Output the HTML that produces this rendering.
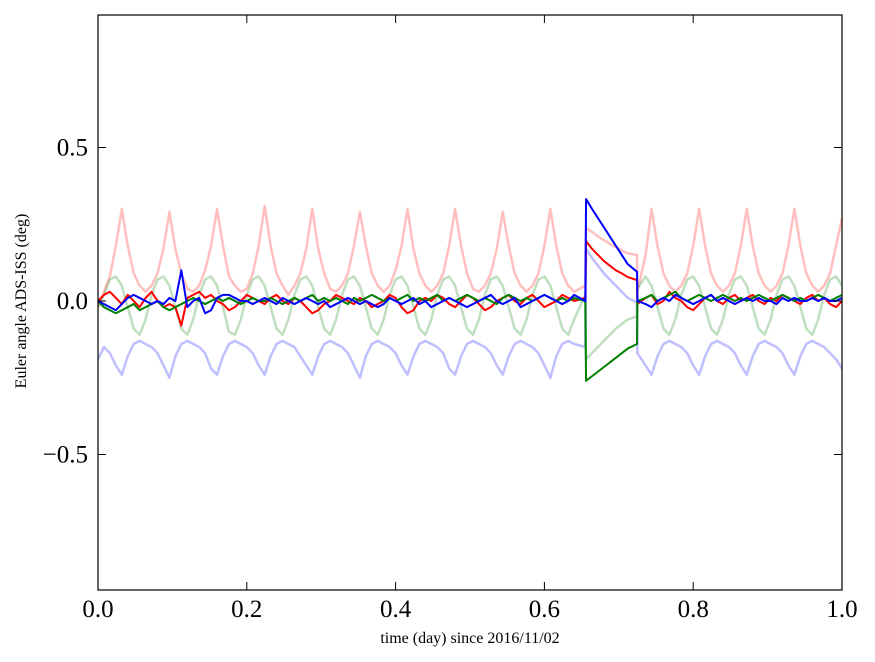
<!DOCTYPE html>
<html><head><meta charset="utf-8">
<style>
html,body{margin:0;padding:0;background:#fff;}
svg{display:block;font-family:"Liberation Serif",serif;}
</style></head>
<body>
<svg id="chart" width="875" height="662" viewBox="0 0 875 662" xmlns="http://www.w3.org/2000/svg">
<rect x="0" y="0" width="875" height="662" fill="#fff"/>
<g id="series"></g>
<rect x="98" y="15" width="744" height="575" fill="none" stroke="#000" stroke-width="1.2"/>
<g id="ticks"></g>
<text x="470" y="643" font-size="16" text-anchor="middle">time (day) since 2016/11/02</text>
<text x="0" y="0" font-size="16" text-anchor="middle" transform="translate(26,301) rotate(-90)">Euler angle ADS-ISS (deg)</text>
</svg>
<script>
const xTicks=[0,0.2,0.4,0.6,0.8,1.0];
const xTickLabels=["0.0","0.2","0.4","0.6","0.8","1.0"];
const yTicks=[-0.5,0,0.5];
const yTickLabels=["\u22120.5","0.0","0.5"];
const redDark=[0.00,0.02,0.03,0.01,-0.01,0.02,0.00,-0.02,0.01,0.03,0.00,-0.02,-0.01,-0.02,-0.08,0.01,
0.02,0.03,0.01,0.02,0.00,-0.01,-0.03,-0.02,0.00,0.02,0.01,0.00,-0.01,0.01,0.02,0.00,
-0.01,0.01,0.00,-0.02,-0.04,-0.03,-0.01,0.00,0.02,0.01,0.00,-0.01,0.01,0.00,-0.02,-0.01,
0.00,0.02,0.01,-0.02,-0.04,-0.03,0.00,0.01,0.00,0.02,0.01,-0.01,-0.02,0.00,0.02,0.01,
-0.01,-0.03,-0.02,0.00,0.01,0.02,0.00,-0.01,0.01,0.02,0.00,-0.02,-0.01,0.00,0.02,0.01,0.00,0.01,
0.195,0.17,0.15,0.13,0.115,0.10,0.09,0.078,0.068,
-0.01,0.01,0.02,-0.01,0.00,0.03,0.01,0.00,-0.02,-0.03,-0.01,0.01,0.02,0.00,-0.01,0.01,0.02,0.00,0.01,0.02,0.00,-0.01,0.01,0.00,0.02,0.01,0.00,-0.01,0.01,0.02,0.00,0.01,-0.01,-0.02,0.00];
const blueDark=[0.00,-0.01,-0.02,-0.03,-0.01,0.01,0.02,0.01,0.00,-0.01,0.00,-0.01,0.01,0.00,0.10,-0.02,
0.00,0.01,-0.04,-0.03,0.01,0.02,0.02,0.01,0.00,0.00,-0.01,0.00,0.01,0.00,-0.01,0.01,
0.00,-0.01,0.00,0.01,0.00,-0.01,0.00,-0.02,-0.01,0.00,0.01,0.00,-0.01,0.00,-0.01,-0.02,
-0.01,0.01,0.00,-0.01,0.00,0.01,-0.01,0.00,-0.02,-0.01,0.00,0.01,0.00,-0.01,-0.02,-0.01,
0.00,0.01,0.02,0.00,-0.01,0.00,0.01,-0.02,-0.01,0.00,0.01,0.02,0.01,0.00,-0.01,0.00,0.02,0.00,
0.332,0.30,0.27,0.24,0.21,0.18,0.15,0.12,0.095,
0.00,-0.01,-0.02,0.00,0.01,0.00,0.02,0.01,0.00,-0.01,0.00,0.01,0.02,0.00,0.01,0.00,-0.01,0.00,0.01,0.00,0.01,0.00,0.00,-0.01,0.01,0.00,0.01,0.00,0.00,0.01,0.00,0.01,0.00,0.00,0.01];
const greenDark=[0.00,-0.02,-0.03,-0.04,-0.03,-0.02,-0.01,-0.03,-0.02,-0.01,0.00,-0.02,-0.03,-0.02,-0.01,0.00,
0.01,0.00,-0.01,0.00,0.01,0.00,0.01,0.00,-0.01,0.00,0.01,0.00,0.00,0.01,0.00,-0.01,
0.00,0.01,0.00,0.01,0.02,0.00,0.01,0.00,0.01,0.00,-0.01,0.01,0.00,0.01,0.02,0.01,
0.00,0.01,0.00,0.01,0.02,0.00,0.01,0.00,0.01,0.02,0.00,0.01,0.00,0.01,0.02,0.01,
0.00,0.01,0.00,-0.01,0.01,0.02,0.01,0.00,0.01,0.00,0.01,0.02,0.01,0.00,0.01,0.00,0.01,0.00,
-0.26,-0.245,-0.23,-0.215,-0.2,-0.185,-0.17,-0.155,-0.14,
0.00,0.01,0.02,0.00,0.01,0.02,0.03,0.01,0.00,0.01,0.02,0.01,0.00,0.01,0.02,0.01,0.00,0.01,0.00,0.01,0.02,0.01,0.00,0.01,0.02,0.01,0.00,0.01,0.00,0.01,0.02,0.01,0.00,0.01,0.02];
const redFaint=[-0.02,0.03,0.08,0.18,0.30,0.18,0.09,0.05,
0.03,0.05,0.09,0.17,0.29,0.17,0.09,0.04,
0.03,0.05,0.10,0.18,0.30,0.18,0.08,0.05,
0.03,0.04,0.09,0.18,0.31,0.18,0.09,0.05,
0.02,0.05,0.09,0.17,0.30,0.17,0.09,0.04,
0.03,0.05,0.09,0.18,0.29,0.18,0.09,0.05,
0.03,0.05,0.10,0.18,0.30,0.17,0.09,0.05,
0.03,0.05,0.09,0.18,0.30,0.18,0.09,0.04,
0.03,0.05,0.09,0.17,0.29,0.18,0.09,0.05,
0.03,0.05,0.09,0.18,0.30,0.18,0.09,0.05,
0.03,0.05,
0.238,0.225,0.21,0.198,0.186,0.175,0.165,0.155,0.15,
0.03,0.15,0.30,0.18,0.09,0.05,0.03,0.05,0.09,0.18,0.30,0.18,0.09,0.05,0.03,0.05,0.09,0.18,0.30,0.18,0.09,0.05,0.03,0.05,0.09,0.18,0.30,0.18,0.09,0.05,0.03,0.05,0.09,0.18,0.27];
const blueFaint=[-0.19,-0.15,-0.17,-0.21,-0.24,-0.18,-0.14,-0.13,
-0.14,-0.15,-0.17,-0.21,-0.25,-0.18,-0.14,-0.13,
-0.14,-0.15,-0.17,-0.22,-0.24,-0.18,-0.14,-0.13,
-0.14,-0.15,-0.17,-0.21,-0.24,-0.18,-0.14,-0.13,
-0.14,-0.15,-0.18,-0.21,-0.24,-0.18,-0.14,-0.13,
-0.14,-0.15,-0.17,-0.21,-0.25,-0.18,-0.14,-0.13,
-0.14,-0.15,-0.17,-0.21,-0.24,-0.18,-0.14,-0.13,
-0.14,-0.15,-0.17,-0.22,-0.24,-0.18,-0.14,-0.13,
-0.14,-0.15,-0.17,-0.21,-0.24,-0.18,-0.14,-0.13,
-0.14,-0.15,-0.17,-0.21,-0.25,-0.18,-0.14,-0.13,
-0.14,-0.15,
0.17,0.14,0.115,0.09,0.07,0.05,0.03,0.01,-0.005,
-0.17,-0.21,-0.24,-0.18,-0.14,-0.13,-0.14,-0.15,-0.17,-0.21,-0.24,-0.18,-0.14,-0.13,-0.14,-0.15,-0.17,-0.21,-0.24,-0.18,-0.14,-0.13,-0.14,-0.15,-0.17,-0.21,-0.24,-0.18,-0.14,-0.13,-0.14,-0.15,-0.17,-0.19,-0.22];
const greenFaint=[-0.02,0.02,0.07,0.08,0.05,-0.02,-0.09,-0.11,
-0.06,0.02,0.07,0.08,0.05,-0.02,-0.09,-0.11,
-0.06,0.02,0.07,0.08,0.05,-0.02,-0.10,-0.11,
-0.06,0.02,0.07,0.08,0.05,-0.02,-0.09,-0.11,
-0.06,0.02,0.07,0.08,0.05,-0.02,-0.09,-0.11,
-0.06,0.02,0.07,0.08,0.05,-0.02,-0.09,-0.11,
-0.06,0.02,0.07,0.08,0.05,-0.02,-0.09,-0.11,
-0.06,0.02,0.07,0.08,0.05,-0.02,-0.09,-0.11,
-0.06,0.02,0.07,0.08,0.05,-0.02,-0.09,-0.11,
-0.06,0.02,0.07,0.08,0.05,-0.02,-0.09,-0.11,
-0.06,0.02,
-0.19,-0.17,-0.15,-0.13,-0.11,-0.09,-0.075,-0.06,-0.05,
0.04,0.08,0.05,-0.02,-0.09,-0.11,-0.06,0.02,0.07,0.08,0.05,-0.02,-0.09,-0.11,-0.06,0.02,0.07,0.08,0.05,-0.02,-0.09,-0.11,-0.06,0.02,0.07,0.08,0.05,-0.02,-0.09,-0.11,-0.06,0.02,0.07,0.08,0.05];

// sample times: uniform 0.008 day step, with the data gap edges at 0.655 / 0.7245
const times=[];
for(let i=0;i<126;i++){times.push(Math.min(i*0.008,1));}
times[81]=0.655; times[90]=0.7245; times[91]=0.725;

const X0=98,X1=842,YZ=301,YS=307;
function xs(t){return X0+(X1-X0)*t;}
function ys(v){return YZ-v*YS;}
const NS="http://www.w3.org/2000/svg";
const sg=document.getElementById('series');
function draw(vals,color,width,op,name){
  let d="";
  for(let i=0;i<vals.length;i++){
    d+=(i?"L":"M")+xs(times[i]).toFixed(2)+","+ys(vals[i]).toFixed(2);
  }
  const p=document.createElementNS(NS,'path');
  p.setAttribute('d',d);p.setAttribute('fill','none');p.setAttribute('stroke',color);
  p.setAttribute('stroke-width',width);p.setAttribute('stroke-opacity',op);p.setAttribute('stroke-linejoin','round');
  
  
  sg.appendChild(p);
}
draw(redFaint,'#ff0000',2.5,0.25,'red-faint-line');
draw(greenFaint,'#008000',2.5,0.25,'green-faint-line');
draw(blueFaint,'#0000ff',2.5,0.25,'blue-faint-line');
draw(redDark,'#ff0000',2,1,'red-line');
draw(greenDark,'#008000',2,1,'green-line');
draw(blueDark,'#0000ff',2,1,'blue-line');

const tg=document.getElementById('ticks');
function ln(x1,y1,x2,y2){const l=document.createElementNS(NS,'line');l.setAttribute('x1',x1);l.setAttribute('y1',y1);l.setAttribute('x2',x2);l.setAttribute('y2',y2);l.setAttribute('stroke','#000');l.setAttribute('stroke-width','1');


tg.appendChild(l);}
function tx(x,y,s,anchor,name){const t=document.createElementNS(NS,'text');t.setAttribute('x',x);t.setAttribute('y',y);t.setAttribute('font-size','25');t.setAttribute('text-anchor',anchor);t.textContent=s;


tg.appendChild(t);}
xTicks.forEach((v,i)=>{const x=xs(v);ln(x,590,x,582);ln(x,15,x,23);tx(x,617,xTickLabels[i],'middle','x-tick-label');});
yTicks.forEach((v,i)=>{const y=ys(v);ln(98,y,106,y);ln(842,y,834,y);tx(88,y+8,yTickLabels[i],'end','y-tick-label');});
</script>
</body></html>
